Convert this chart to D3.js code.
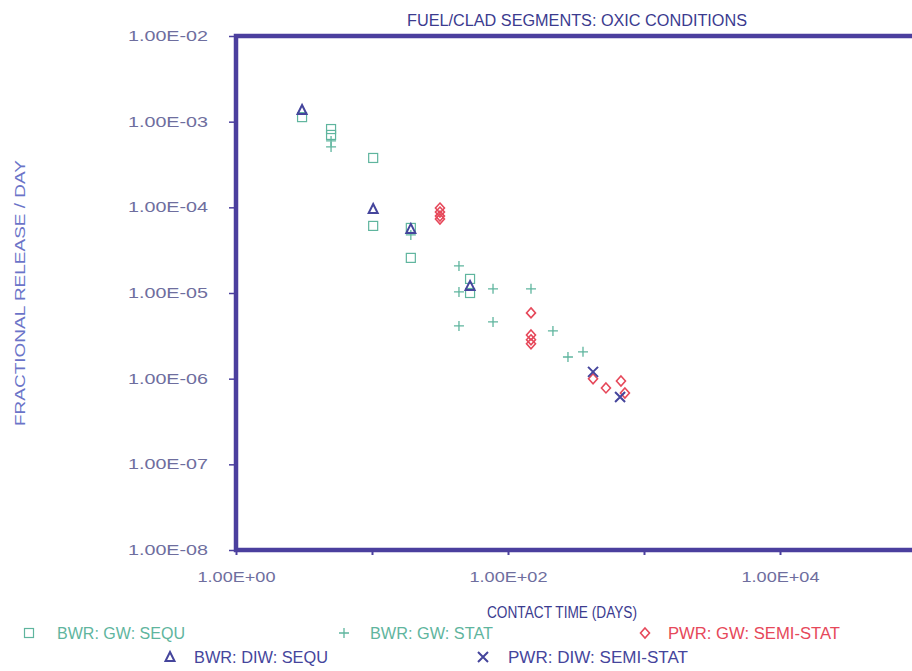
<!DOCTYPE html>
<html>
<head>
<meta charset="utf-8">
<script src="https://cdn.jsdelivr.net/npm/d3@7"></script>
<style>
  html, body { margin: 0; padding: 0; background: #ffffff; }
  svg { display: block; }
  text { font-family: "Liberation Sans", Arial, sans-serif; }
</style>
</head>
<body>
<svg id="chart" width="912" height="671"></svg>
<script>
// Contact time (days) and fractional release per day for each series
const bwrGwSequTime    = [3.06, 5.0, 5.0, 10.2, 10.2, 19.3, 19.3, 52.6, 52.6];
const bwrGwSequRelease = [1.13e-3, 8.2e-4, 7.0e-4, 3.77e-4, 6.07e-5, 5.75e-5, 2.57e-5, 1.46e-5, 1.0e-5];

const bwrGwStatTime    = [5.0, 5.0, 19.3, 43.6, 43.6, 43.6, 77.6, 77.6, 147.6, 214, 276, 356];
const bwrGwStatRelease = [5.96e-4, 5.07e-4, 4.76e-5, 2.07e-5, 1.03e-5, 4.13e-6, 1.12e-5, 4.6e-6, 1.12e-5, 3.61e-6, 1.79e-6, 2.06e-6];

const bwrDiwSequTime    = [3.06, 10.2, 19.3, 52.6];
const bwrDiwSequRelease = [1.37e-3, 9.57e-5, 5.6e-5, 1.21e-5];

const pwrGwSemiTime    = [31.6, 31.6, 31.6, 31.6, 147.6, 147.6, 147.6, 147.6, 422, 525, 677, 724];
const pwrGwSemiRelease = [9.8e-5, 8.8e-5, 7.9e-5, 7.3e-5, 5.86e-6, 3.24e-6, 2.84e-6, 2.55e-6, 9.96e-7, 7.8e-7, 9.4e-7, 6.8e-7];

const pwrDiwSemiTime    = [422, 667];
const pwrDiwSemiRelease = [1.2e-6, 6.1e-7];

const xTickValues = [1, 10, 100, 1000, 10000, 100000];
const xTickLabels = ["1.00E+00", "", "1.00E+02", "", "1.00E+04", ""];
const yTickValues = [1e-2, 1e-3, 1e-4, 1e-5, 1e-6, 1e-7, 1e-8];
const yTickLabels = ["1.00E-02", "1.00E-03", "1.00E-04", "1.00E-05", "1.00E-06", "1.00E-07", "1.00E-08"];

const titleText  = "FUEL/CLAD SEGMENTS: OXIC CONDITIONS";
const xAxisTitle = "CONTACT TIME (DAYS)";
const yAxisTitle = "FRACTIONAL  RELEASE  /  DAY";

const legendLabels = ["BWR: GW: SEQU", "BWR: GW: STAT", "PWR: GW: SEMI-STAT", "BWR: DIW: SEQU", "PWR: DIW: SEMI-STAT"];

const frameColor = "#4b3f9e";
const teal = "#5fb59e";
const indigo = "#45459c";
const red = "#e6485a";
const tickTextColor = "#6e6e9e";

const svg = d3.select("#chart");

// Plot frame: log axes, x spans 1 to 1e6 days (right part runs off the page)
const plotLeft = 236, plotTop = 36, plotBottom = 550;
const x = d3.scaleLog().domain([1, 1e6]).range([plotLeft, plotLeft + 136 * 6]);
const y = d3.scaleLog().domain([1e-8, 1e-2]).range([plotBottom, plotTop]);

// Condensed-looking labels: a fixed advance width squeezes the glyphs
function fitText(sel, width) {
  sel.attr("textLength", width).attr("lengthAdjust", "spacingAndGlyphs");
}

// Title
svg.append("text")
  .attr("x", 577).attr("y", 26)
  .attr("text-anchor", "middle")
  .attr("fill", "#3b3b8f")
  .attr("font-size", 16)
  .text(titleText)
  .call(fitText, 340);

// Axes
const xAxis = d3.axisBottom(x).tickValues(xTickValues).tickFormat((d, i) => xTickLabels[i]).tickSize(5).tickPadding(17);
const gx = svg.append("g").attr("transform", `translate(0,${plotBottom})`).call(xAxis);
gx.select(".domain").remove();
gx.selectAll(".tick line").attr("stroke", frameColor).attr("stroke-width", 2);
gx.selectAll(".tick text").attr("fill", tickTextColor).attr("font-size", 14)
  .attr("font-family", "'DejaVu Sans', 'Liberation Sans', sans-serif")
  .each(function () { if (this.textContent) fitText(d3.select(this), 78); });

const yAxis = d3.axisLeft(y).tickValues(yTickValues).tickFormat((d, i) => yTickLabels[i]).tickSize(7).tickPadding(21);
const gy = svg.append("g").attr("transform", `translate(${plotLeft},0)`).call(yAxis);
gy.select(".domain").remove();
gy.selectAll(".tick line").attr("stroke", frameColor).attr("stroke-width", 1.5);
gy.selectAll(".tick text").attr("fill", tickTextColor).attr("font-size", 14)
  .attr("font-family", "'DejaVu Sans', 'Liberation Sans', sans-serif")
  .call(fitText, 80);

// Thick frame
svg.append("rect")
  .attr("x", plotLeft).attr("y", plotTop)
  .attr("width", x(1e6) - plotLeft).attr("height", plotBottom - plotTop)
  .attr("fill", "none")
  .attr("stroke", frameColor)
  .attr("stroke-width", 4.5);

// Axis titles
svg.append("text")
  .attr("x", 562).attr("y", 618)
  .attr("text-anchor", "middle")
  .attr("fill", "#3b3b8f")
  .attr("font-size", 16)
  .text(xAxisTitle)
  .call(fitText, 150);

svg.append("text")
  .attr("transform", "translate(25,293) rotate(-90)")
  .attr("text-anchor", "middle")
  .attr("fill", "#6b74c8")
  .attr("font-size", 14)
  .text(yAxisTitle)
  .call(fitText, 266);

// Marker shapes
function drawMarker(g, kind, color) {
  if (kind === "square") {
    g.append("rect").attr("x", -4.5).attr("y", -4.5).attr("width", 9).attr("height", 9)
      .attr("fill", "none").attr("stroke", color).attr("stroke-width", 1.2);
  } else if (kind === "plus") {
    g.append("path").attr("d", "M-5,0H5M0,-5V5")
      .attr("stroke", color).attr("stroke-width", 1.3).attr("fill", "none");
  } else if (kind === "triangle") {
    g.append("path").attr("d", "M0,-5L4.5,4L-4.5,4Z")
      .attr("fill", "none").attr("stroke", color).attr("stroke-width", 2);
  } else if (kind === "diamond") {
    g.append("path").attr("d", "M0,-5L4.5,0L0,5L-4.5,0Z")
      .attr("fill", "none").attr("stroke", color).attr("stroke-width", 1.6);
  } else if (kind === "cross") {
    g.append("path").attr("d", "M-5,-5L5,5M5,-5L-5,5")
      .attr("stroke", color).attr("stroke-width", 2).attr("fill", "none");
  }
}

const series = [
  { t: bwrGwSequTime, v: bwrGwSequRelease, kind: "square", color: teal },
  { t: bwrGwStatTime, v: bwrGwStatRelease, kind: "plus", color: teal },
  { t: pwrGwSemiTime, v: pwrGwSemiRelease, kind: "diamond", color: red },
  { t: bwrDiwSequTime, v: bwrDiwSequRelease, kind: "triangle", color: indigo },
  { t: pwrDiwSemiTime, v: pwrDiwSemiRelease, kind: "cross", color: indigo }
];

series.forEach(s => {
  s.t.forEach((t, i) => {
    const g = svg.append("g").attr("transform", `translate(${x(t)},${y(s.v[i])})`);
    drawMarker(g, s.kind, s.color);
  });
});

// Legend
const legendItems = [
  { mx: 29,  my: 633, tx: 57,  w: 128, kind: "square",   color: teal,   label: legendLabels[0] },
  { mx: 344, my: 633, tx: 370, w: 123, kind: "plus",     color: teal,   label: legendLabels[1] },
  { mx: 645, my: 633, tx: 668, w: 172, kind: "diamond",  color: red,    label: legendLabels[2] },
  { mx: 170, my: 657, tx: 194, w: 134, kind: "triangle", color: indigo, label: legendLabels[3] },
  { mx: 483, my: 657, tx: 508, w: 180, kind: "cross",    color: indigo, label: legendLabels[4] }
];
legendItems.forEach(d => {
  const g = svg.append("g").attr("transform", `translate(${d.mx},${d.my})`);
  drawMarker(g, d.kind, d.color);
  svg.append("text")
    .attr("x", d.tx).attr("y", d.my + 6)
    .attr("fill", d.color)
    .attr("font-size", 16)
    .text(d.label)
    .call(fitText, d.w);
});
</script>
</body>
</html>
